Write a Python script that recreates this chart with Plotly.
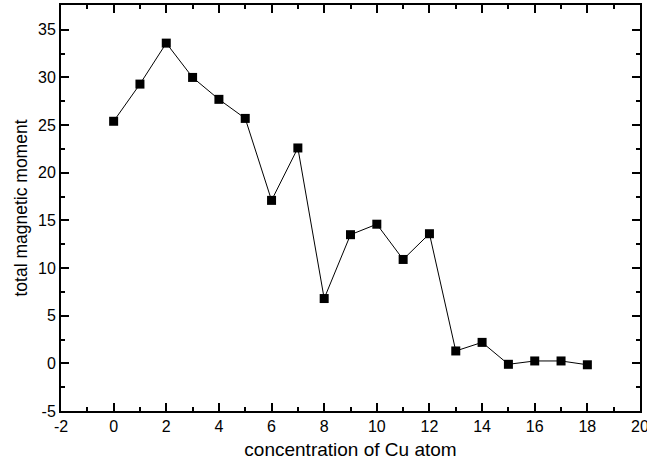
import plotly.graph_objects as go

cu_conc = [0, 1, 2, 3, 4, 5, 6, 7, 8, 9, 10, 11, 12, 13, 14, 15, 16, 17, 18]
magnetic_moment = [25.4, 29.3, 33.6, 30.0, 27.7, 25.7, 17.1, 22.6, 6.8, 13.5,
                   14.6, 10.9, 13.6, 1.3, 2.2, -0.1, 0.25, 0.25, -0.15]

x_tickvals = [-2, 0, 2, 4, 6, 8, 10, 12, 14, 16, 18, 20]
x_ticktext = ["-2", "0", "2", "4", "6", "8", "10", "12", "14", "16", "18", "20"]
y_tickvals = [-5, 0, 5, 10, 15, 20, 25, 30, 35]
y_ticktext = ["-5", "0", "5", "10", "15", "20", "25", "30", "35"]

fig = go.Figure()
fig.add_trace(go.Scatter(
    x=cu_conc, y=magnetic_moment, mode="lines+markers",
    line=dict(color="black", width=1),
    marker=dict(symbol="square", size=9, color="black"),
    showlegend=False,
))

font = dict(family="Liberation Sans, Arial, Helvetica, sans-serif", color="black")
axis_common = dict(
    showline=True, linecolor="black", linewidth=2, mirror="allticks",
    ticks="inside", ticklen=8, tickwidth=1.5, tickcolor="black",
    showgrid=False, zeroline=False, ticklabeloverflow="allow",
    tickfont=dict(size=16, **font),
)
fig.update_xaxes(
    range=[-2, 20], tickmode="array", tickvals=x_tickvals, ticktext=x_ticktext,
    minor=dict(ticks="inside", ticklen=4, tickwidth=1.5, tickcolor="black",
               tickmode="linear", tick0=-2, dtick=1, showgrid=False),
    title=dict(text="concentration of Cu atom", font=dict(size=19, **font), standoff=8),
    **axis_common,
)
fig.update_yaxes(
    range=[-5, 37.6], tickmode="array", tickvals=y_tickvals, ticktext=y_ticktext,
    minor=dict(ticks="inside", ticklen=4, tickwidth=1.5, tickcolor="black",
               tickmode="linear", tick0=-5, dtick=2.5, showgrid=False),
    title=dict(text="total magnetic moment", font=dict(size=17.5, **font), standoff=6),
    **axis_common,
)
fig.update_layout(
    width=647, height=464,
    margin=dict(l=61, r=7, t=5, b=53, autoexpand=False),
    plot_bgcolor="white", paper_bgcolor="white",
    font=font,
)
fig.write_html("out.html", config={"displayModeBar": False},
               post_script="document.body.style.margin='0';")
